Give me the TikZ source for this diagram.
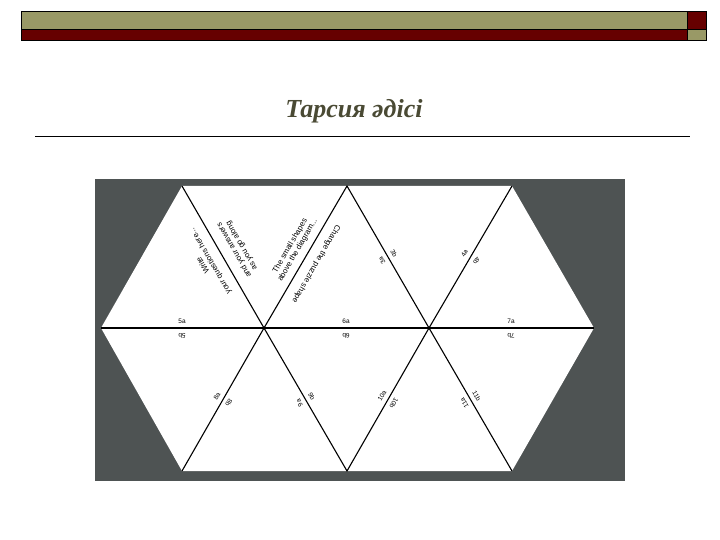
\documentclass[tikz,border=0pt]{standalone}
\usepackage{fontspec}
\setmainfont{Liberation Serif}
\newfontfamily\puzzlefont{Liberation Sans}
\definecolor{barolive}{RGB}{153,153,102}
\definecolor{barred}{RGB}{102,0,0}
\definecolor{titlecol}{RGB}{74,74,52}
\definecolor{boardgray}{RGB}{78,83,83}

\begin{document}
\begin{tikzpicture}[x=1pt,y=-1pt,
  cut/.style={line width=1.1pt},
  midcut/.style={line width=1.7pt},
  lab/.style={font=\puzzlefont\fontsize{6.5}{7}\selectfont,inner sep=0pt},
  qtext/.style={font=\puzzlefont\fontsize{7.8}{8.6}\selectfont,inner sep=0pt,align=center}]
\useasboundingbox (0,0) rectangle (720,540);
% top bar
\filldraw[fill=barolive,draw=black] (21,11) rectangle (687,29);
\filldraw[fill=barred,draw=black] (21,29) rectangle (687,40);
\filldraw[fill=barred,draw=black] (687,11) rectangle (706,29);
\filldraw[fill=barolive,draw=black] (687,29) rectangle (706,40);
% title
\node[anchor=base,text=titlecol,font=\fontsize{26}{30}\selectfont\bfseries\itshape] (title) at (354,118) {Тарсия әдісі};
\coordinate (rl) at (35,136);
\coordinate (rr) at (690,136);
\draw[line width=0.8pt] (rl) -- (rr);
% board
\fill[boardgray] (95,179) rectangle (625,481);
\coordinate (t1) at (182,186);
\coordinate (t2) at (347,186);
\coordinate (t3) at (512,186);
\coordinate (m0) at (101,328);
\coordinate (m1) at (264,328);
\coordinate (m2) at (429,328);
\coordinate (m3) at (594,328);
\coordinate (b1) at (182,471);
\coordinate (b2) at (347,471);
\coordinate (b3) at (512,471);
\fill[white] (t1) -- (t3) -- (m3) -- (b3) -- (b1) -- (m0) -- cycle;
\draw[cut] (t1) -- (m1) -- (t2) -- (m2) -- (t3);
\draw[cut] (b1) -- (m1) -- (b2) -- (m2) -- (b3);
\draw[midcut] (m0) -- (m3);
% texts on the first two edges
\node[qtext,rotate=120] (q1) at (207,263) {Write\\your questions here...};
\node[qtext,rotate=120] (a1) at (238,248) {and your answers\\as you go along};
\node[qtext,rotate=60] (q2) at (294,248) {The small shapes\\above the diagram...};
\node[qtext,rotate=240] (a2) at (316,264) {Change the puzzle shape};
% edge labels
\node[lab,rotate=120] (l3a) at (382,260.5) {3a};
\node[lab,rotate=-60] (l3b) at (394,253.5) {3b};
\node[lab,rotate=60] (l4a) at (464.4,253.5) {4a};
\node[lab,rotate=240] (l4b) at (476.6,260.5) {4b};
\node[lab] (l5a) at (182,321) {5a};
\node[lab,rotate=180] (l5b) at (182,335.5) {5b};
\node[lab] (l6a) at (346,321) {6a};
\node[lab,rotate=180] (l6b) at (346,335.5) {6b};
\node[lab] (l7a) at (511,321) {7a};
\node[lab,rotate=180] (l7b) at (511,335.5) {7b};
\node[lab,rotate=60] (l8a) at (217,396) {8a};
\node[lab,rotate=240] (l8b) at (229,403) {8b};
\node[lab,rotate=120] (l9a) at (299.4,403) {9a};
\node[lab,rotate=-60] (l9b) at (311.6,396) {9b};
\node[lab,rotate=60] (l10a) at (382,396) {10a};
\node[lab,rotate=240] (l10b) at (394,403) {10b};
\node[lab,rotate=120] (l11a) at (464.4,403) {11a};
\node[lab,rotate=-60] (l11b) at (476.6,396) {11b};
\end{tikzpicture}
\end{document}
